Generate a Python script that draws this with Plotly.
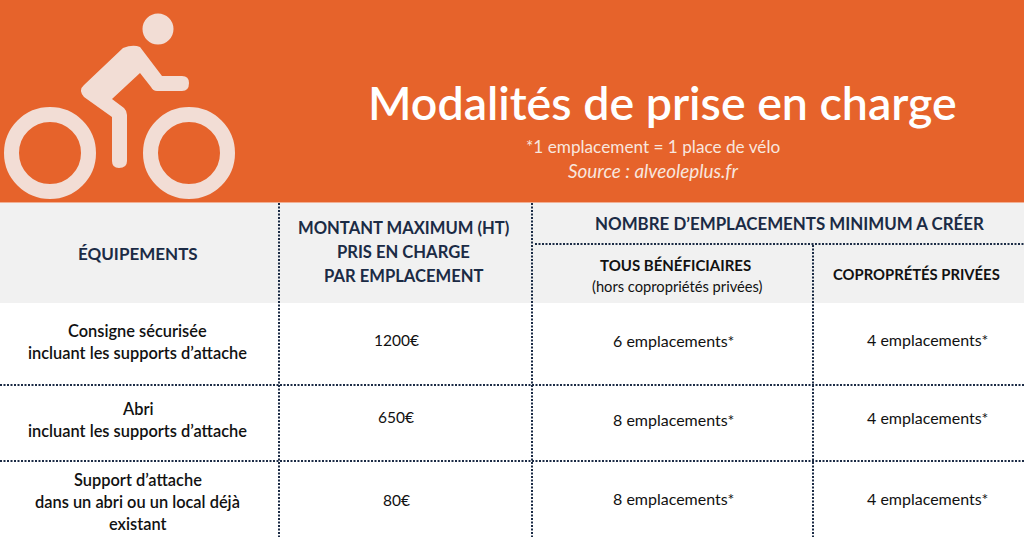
import plotly.graph_objects as go

# table content
title = "Modalités de prise en charge"
subtitle = "*1 emplacement = 1 place de vélo"
source = "<i>Source : alveoleplus.fr</i>"

header_equip = "ÉQUIPEMENTS"
header_montant = ["MONTANT MAXIMUM (HT)", "PRIS EN CHARGE", "PAR EMPLACEMENT"]
header_nombre = "NOMBRE D’EMPLACEMENTS MINIMUM A CRÉER"
header_tous = "TOUS BÉNÉFICIAIRES"
header_hors = "(hors copropriétés privées)"
header_copro = "COPROPRÉTÉS PRIVÉES"

equipements = [
    ["Consigne sécurisée", "incluant les supports d’attache"],
    ["Abri", "incluant les supports d’attache"],
    ["Support d’attache", "dans un abri ou un local déjà", "existant"],
]
montants = ["1200€", "650€", "80€"]
tous = ["6 emplacements*", "8 emplacements*", "8 emplacements*"]
copro = ["4 emplacements*", "4 emplacements*", "4 emplacements*"]

ORANGE = "#E6632B"
ICON = "#F2DDD5"
GREY = "#F1F1F1"
NAVY = "#1B2B45"
BLACK = "#111111"
FONT = "Lato"

fig = go.Figure()
shapes = []
annots = []


def rect(x0, y0, x1, y1, color):
    shapes.append(dict(type="rect", x0=x0, y0=y0, x1=x1, y1=y1, fillcolor=color, line_width=0, layer="below"))


def dotted(x0, y0, x1, y1):
    shapes.append(dict(type="line", x0=x0, y0=y0, x1=x1, y1=y1,
                       line=dict(color=NAVY, width=2, dash="2px,1.5px")))


def ring(cx, cy, r):
    shapes.append(dict(type="circle", x0=cx - r, y0=cy - r, x1=cx + r, y1=cy + r,
                       line=dict(color=ICON, width=15), fillcolor="rgba(0,0,0,0)"))


def label(x, y, text, size, color=BLACK, weight=500, family=FONT):
    annots.append(dict(x=x, y=y, text=text, showarrow=False, xanchor="center", yanchor="middle",
                       font=dict(family=family, size=size, color=color, weight=weight)))


# backgrounds
rect(0, 0, 1024, 202.5, ORANGE)
rect(0, 203, 1024, 303, GREY)

# bike icon
ring(50, 153, 38.5)
ring(189, 153, 38.5)
shapes.append(dict(type="circle", x0=142.5, y0=13.5, x1=173.5, y1=44.5, fillcolor=ICON, line_width=0))
body = ("M 123 48 Q 133 44 140 47 L 162 76 L 182 76 Q 189 76 189 83 Q 189 91 182 91 L 157 91 Q 153 91 151 87 "
        "L 140 73 L 112 99 L 124 108 Q 127 111 127 115 L 127 161 Q 127 168 119 168 Q 112 168 112 161 "
        "L 112 117 L 84 97 Q 78 90 84 85 Z")
shapes.append(dict(type="path", path=body, fillcolor=ICON, line_width=0))

# grid lines
dotted(279, 203, 279, 537)
dotted(532, 203, 532, 537)
dotted(813, 245, 813, 537)
dotted(535, 244, 1024, 244)
dotted(0, 385, 1024, 385)
dotted(0, 461, 1024, 461)

# banner text
label(662, 102, title, 46.5, "white", 600)
label(653, 146, subtitle, 17.2, "#F8E6DE", 400)
label(653, 170, source, 18.9, "#F8E6DE", 400)

# header
label(138, 253, header_equip, 17, NAVY, 700)
for y, line in zip([228, 252, 276], header_montant):
    label(403, y, line, 16.6, NAVY, 700)
label(789, 223, header_nombre, 16.9, NAVY, 700)
label(675, 265, header_tous, 15, BLACK, 700)
label(677, 286, header_hors, 14.7, BLACK, 400)
label(916, 274, header_copro, 14.8, BLACK, 700)

# rows
row_lines = [[330, 352], [408, 430], [479, 501, 523]]
row_mid = [340, 417, 500]
row_tous = [340, 419, 498]
row_copro = [339, 417, 498]
for i in range(3):
    for y, line in zip(row_lines[i], equipements[i]):
        label(137.5, y, line, 16.4, BLACK, 600)
    label(396, row_mid[i], montants[i], 15.5, BLACK, 400)
    label(673, row_tous[i], tous[i], 16, BLACK, 400)
    label(927, row_copro[i], copro[i], 16, BLACK, 400)

fig.update_layout(
    width=1024,
    height=537,
    margin=dict(l=0, r=0, t=0, b=0),
    paper_bgcolor="white",
    plot_bgcolor="white",
    shapes=shapes,
    annotations=annots,
    showlegend=False,
    xaxis=dict(range=[0, 1024], visible=False, fixedrange=True),
    yaxis=dict(range=[537, 0], visible=False, fixedrange=True),
)

fig.write_html("out.html", post_script="document.body.style.margin='0';", config=dict(displayModeBar=False))
